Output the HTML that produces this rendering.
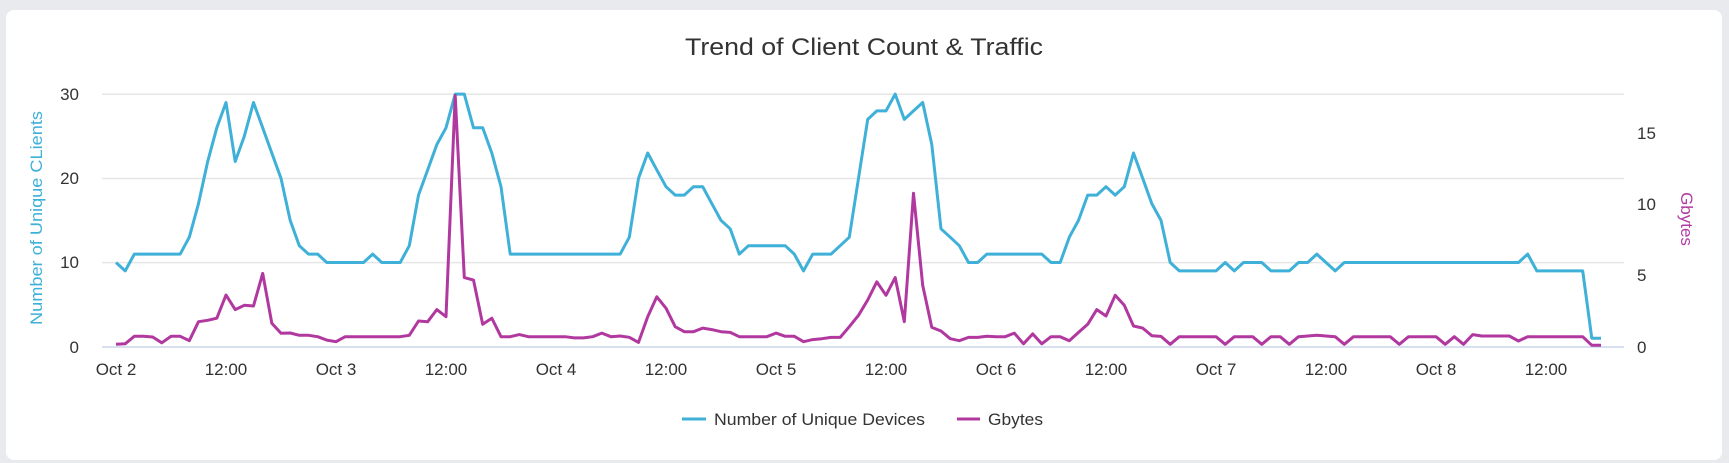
<!DOCTYPE html>
<html><head><meta charset="utf-8"><style>
html,body{margin:0;padding:0;background:#e9eaed;}
body{width:1729px;height:463px;overflow:hidden;position:relative;}
.card{position:absolute;left:6px;top:10px;width:1716px;height:450px;background:#fff;border-radius:8px;}
svg{position:absolute;left:0;top:0;}
text{font-family:"Liberation Sans",Arial,sans-serif;}
</style></head><body>
<div class="card"></div>
<svg width="1729" height="463" xmlns="http://www.w3.org/2000/svg">
<text x="864" y="55" text-anchor="middle" font-size="24" fill="#333" textLength="358" lengthAdjust="spacingAndGlyphs">Trend of Client Count &amp; Traffic</text>
<g stroke="#e6e6e6" stroke-width="1.5">
<line x1="102" x2="1624" y1="94.3" y2="94.3"/>
<line x1="102" x2="1624" y1="178.5" y2="178.5"/>
<line x1="102" x2="1624" y1="262.6" y2="262.6"/>
</g>
<line x1="102" x2="1624" y1="347" y2="347" stroke="#ccd6eb" stroke-width="1.5"/>
<g font-size="17" fill="#333" text-anchor="end">
<text x="79" y="100">30</text><text x="79" y="184">20</text><text x="79" y="268">10</text><text x="79" y="353">0</text>
</g>
<g font-size="17" fill="#333" text-anchor="start">
<text x="1637" y="139">15</text><text x="1637" y="210">10</text><text x="1637" y="281">5</text><text x="1637" y="353">0</text>
</g>
<text transform="translate(42,218) rotate(-90)" text-anchor="middle" font-size="17" fill="#3fb0d7" textLength="214" lengthAdjust="spacingAndGlyphs">Number of Unique CLients</text>
<text transform="translate(1681,219) rotate(90)" text-anchor="middle" font-size="17" fill="#b13ca3">Gbytes</text>
<g id="xt" font-size="17" fill="#333" text-anchor="middle"></g>
<polyline id="pb" fill="none" stroke="#3fb0d7" stroke-width="3" stroke-linejoin="round"/>
<polyline id="pm" fill="none" stroke="#b0389f" stroke-width="3" stroke-linejoin="round"/>
<line x1="682" x2="706" y1="419" y2="419" stroke="#3fb0d7" stroke-width="3"/>
<text x="714" y="425" font-size="17" fill="#333" textLength="211" lengthAdjust="spacingAndGlyphs">Number of Unique Devices</text>
<line x1="957" x2="980" y1="419" y2="419" stroke="#b0389f" stroke-width="3"/>
<text x="988" y="425" font-size="17" fill="#333" textLength="55" lengthAdjust="spacingAndGlyphs">Gbytes</text>
</svg>
<script>
var B=[10,9,11,11,11,11,11,11,13,17,
22,26,29,22,25,29,26,23,20,15,
12,11,11,10,10,10,10,10,11,10,
10,10,12,18,21,24,26,30,30,26,
26,23,19,11,11,11,11,11,11,11,
11,11,11,11,11,11,13,20,23,21,
19,18,18,19,19,17,15,14,11,12,
12,12,12,12,11,9,11,11,11,12,
13,20,27,28,28,30,27,28,29,24,
14,13,12,10,10,11,11,11,11,11,
11,11,10,10,13,15,18,18,19,18,
19,23,20,17,15,10,9,9,9,9,
9,10,9,10,10,10,9,9,9,10,
10,11,10,9,10,10,10,10,10,10,
10,10,10,10,10,10,10,10,10,10,
10,10,10,10,11,9,9,9,9,9,
9,1,1];
var M=[.17,.2,.73,.73,.68,.27,.73,.73,.42,1.75,
1.85,2.0,3.62,2.6,2.9,2.85,5.14,1.65,.94,.96,
.8,.8,.7,.46,.35,.7,.7,.7,.7,.7,
.7,.7,.8,1.8,1.75,2.6,2.1,17.6,4.84,4.67,
1.57,2.0,.7,.7,.85,.7,.7,.7,.7,.7,
.62,.62,.7,.95,.7,.75,.66,.3,2.1,3.5,
2.7,1.4,1.05,1.05,1.3,1.2,1.05,1.0,.7,.7,
.7,.7,.95,.73,.73,.35,.5,.56,.65,.65,
1.4,2.2,3.27,4.55,3.6,4.84,1.75,10.75,4.3,1.35,
1.1,.56,.42,.65,.65,.73,.7,.7,.95,.2,
.9,.2,.7,.7,.42,1.0,1.57,2.6,2.15,3.6,
2.9,1.45,1.3,.77,.72,.17,.7,.7,.7,.7,
.7,.17,.7,.7,.7,.17,.7,.7,.17,.7,
.75,.8,.75,.7,.17,.7,.7,.7,.7,.7,
.17,.7,.7,.7,.7,.17,.7,.17,.85,.75,
.75,.75,.75,.4,.7,.7,.7,.7,.7,.7,
.7,.1,.1];
function X(i){return 116+9.1667*i;}
var s='';for(var i=0;i<B.length;i++)s+=X(i).toFixed(1)+','+(346.7-B[i]*8.42).toFixed(1)+' ';
document.getElementById('pb').setAttribute('points',s);
s='';for(i=0;i<M.length;i++)s+=X(i).toFixed(1)+','+(346.7-M[i]*14.27).toFixed(1)+' ';
document.getElementById('pm').setAttribute('points',s);
var L=['Oct 2','12:00','Oct 3','12:00','Oct 4','12:00','Oct 5','12:00','Oct 6','12:00','Oct 7','12:00','Oct 8','12:00'];
var g=document.getElementById('xt'),h='';
for(i=0;i<L.length;i++)h+='<text x="'+(116+110*i)+'" y="375">'+L[i]+'</text>';
g.innerHTML=h;
</script>
</body></html>
